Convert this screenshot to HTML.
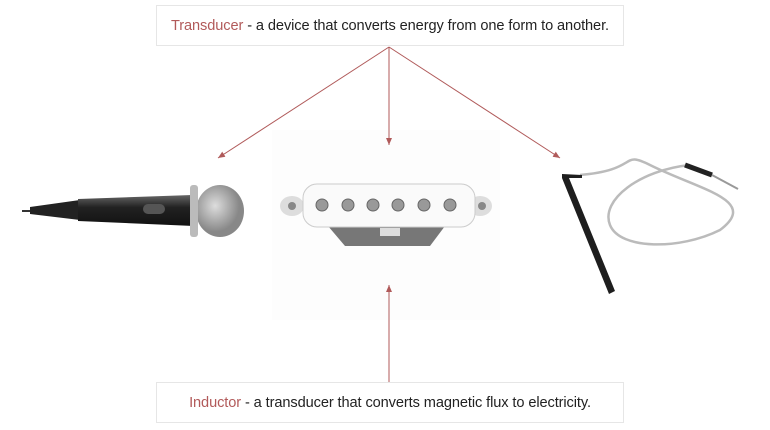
<!DOCTYPE html>
<html><head><meta charset="utf-8"><style>
body{margin:0;width:770px;height:430px;background:#fff;overflow:hidden;position:relative;font-family:"Liberation Sans",sans-serif}
.box{position:absolute;left:156px;width:468px;height:41px;border:1px solid #e6e6e6;background:#fff;box-sizing:border-box;font-size:14.6px;color:#222;line-height:40px;text-align:center;letter-spacing:-0.1px}
.r{color:#b25a5a}
svg{position:absolute;left:0;top:0}
</style></head><body>
<svg width="770" height="430">
<defs>
<marker id="a" markerWidth="8" markerHeight="8" refX="7" refY="4" orient="auto"><path d="M0,1 L7,4 L0,7 z" fill="#b05a5a"/></marker>
<radialGradient id="g" cx="0.4" cy="0.4"><stop offset="0" stop-color="#ddd"/><stop offset="1" stop-color="#888"/></radialGradient>
<linearGradient id="b" x1="0" y1="0" x2="0" y2="1"><stop offset="0" stop-color="#666"/><stop offset="0.4" stop-color="#222"/><stop offset="1" stop-color="#111"/></linearGradient>
</defs>
<rect x="272" y="130" width="228" height="190" fill="#fdfdfd"/>
<g stroke="#b05a5a" stroke-width="1" fill="none" marker-end="url(#a)">
<line x1="389" y1="47" x2="218" y2="158"/>
<line x1="389" y1="47" x2="389" y2="145"/>
<line x1="389" y1="47" x2="560" y2="158"/>
<line x1="389" y1="382" x2="389" y2="285"/>
</g>
<!-- mic -->
<line x1="22" y1="211" x2="32" y2="211" stroke="#333" stroke-width="2"/>
<path d="M30,207 L80,200 L80,220 L30,214 z" fill="#222"/>
<path d="M78,199 L192,195 L194,226 L78,221 z" fill="url(#b)"/>
<rect x="143" y="204" width="22" height="10" rx="5" fill="#555"/>
<ellipse cx="220" cy="211" rx="24" ry="26" fill="url(#g)"/>
<rect x="190" y="185" width="8" height="52" rx="3" fill="#bbb"/>
<!-- pickup -->
<ellipse cx="292" cy="206" rx="12" ry="10" fill="#ddd"/>
<ellipse cx="480" cy="206" rx="12" ry="10" fill="#ddd"/>
<circle cx="292" cy="206" r="4" fill="#888"/><circle cx="482" cy="206" r="4" fill="#888"/>
<path d="M328,226 L445,226 L430,246 L345,246 z" fill="#777"/>
<rect x="380" y="228" width="20" height="8" fill="#ddd"/>
<rect x="303" y="184" width="172" height="43" rx="14" fill="#fafafa" stroke="#ccc"/>
<g fill="#999" stroke="#666"><circle cx="322" cy="205" r="6"/><circle cx="348" cy="205" r="6"/><circle cx="373" cy="205" r="6"/><circle cx="398" cy="205" r="6"/><circle cx="424" cy="205" r="6"/><circle cx="450" cy="205" r="6"/></g>
<!-- piezo -->
<path d="M580,175 C640,170 620,150 650,165 C700,190 760,200 720,230 C680,250 620,250 610,225 C600,200 640,170 690,165" fill="none" stroke="#bbb" stroke-width="2.5"/>
<line x1="685" y1="165" x2="712" y2="175" stroke="#222" stroke-width="5"/>
<line x1="712" y1="175" x2="738" y2="189" stroke="#999" stroke-width="2"/>
<path d="M562,174 L582,175 L582,178 L569,178 L615,291 L609,294 L562,178 z" fill="#1e1e1e"/>
</svg>
<div class="box" style="top:5px"><span class="r">Transducer</span> - a device that converts energy from one form to another.</div>
<div class="box" style="top:382px"><span class="r">Inductor</span> - a transducer that converts magnetic flux to electricity.</div>
</body></html>
